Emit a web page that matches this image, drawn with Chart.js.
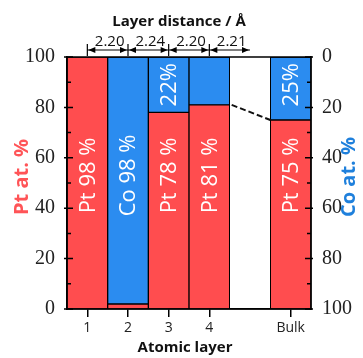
<!DOCTYPE html>
<html>
<head>
<meta charset="utf-8">
<script src="https://cdn.jsdelivr.net/npm/chart.js@4"></script>
<style>
  html, body { margin: 0; padding: 0; background: #fff; }
  #wrap { width: 363px; height: 358px; }
</style>
</head>
<body>
<div id="wrap"><canvas id="layerChart"></canvas></div>
<script>
// data
const layers = ['1', '2', '3', '4', '', 'Bulk'];
const ptPercent = [100, 2, 78, 81, null, 75];
const coPercent = [0, 98, 22, 19, null, 25];
const barLabels = ['Pt 98 %', 'Co 98 %', 'Pt 78 %', 'Pt 81 %', '', 'Pt 75 %'];
const coLabels = ['', '', '22%', '', '', '25%'];
const layerDistances = ['2.20', '2.24', '2.20', '2.21'];

const RED = '#ff4d4f';
const BLUE = '#2b8cf0';
const SANS = '"Open Sans", "Noto Sans", sans-serif';
const SERIF = '"Liberation Serif", "DejaVu Serif", serif';

function vText(ctx, text, x, y) {
  ctx.save();
  ctx.translate(x, y);
  ctx.rotate(-Math.PI / 2);
  ctx.fillText(text, 0, 0);
  ctx.restore();
}

// frame, inward ticks, labels in bars, dashed line, top arrows, titles
const decorations = {
  id: 'decorations',
  afterDatasetsDraw(chart) {
    const { ctx, chartArea: a, scales } = chart;
    const x = scales.x, y = scales.y;
    const half = (x.getPixelForValue(1) - x.getPixelForValue(0)) / 2;

    ctx.save();
    // labels inside bars
    ctx.fillStyle = '#fff';
    ctx.font = '22px ' + SANS;
    ctx.textAlign = 'center';
    ctx.textBaseline = 'middle';
    barLabels.forEach((t, i) => {
      if (t) vText(ctx, t, x.getPixelForValue(i) + 1, y.getPixelForValue(53));
    });
    coLabels.forEach((t, i) => {
      if (t) vText(ctx, t, x.getPixelForValue(i) + 1, y.getPixelForValue(89));
    });

    // dashed line between layer 4 and bulk
    ctx.strokeStyle = '#111';
    ctx.lineWidth = 2;
    ctx.setLineDash([6, 3]);
    ctx.beginPath();
    ctx.moveTo(x.getPixelForValue(3) + half + 2, y.getPixelForValue(ptPercent[3]));
    ctx.lineTo(x.getPixelForValue(5) - half, y.getPixelForValue(ptPercent[5]));
    ctx.stroke();
    ctx.setLineDash([]);

    // frame
    ctx.lineWidth = 1.5;
    ctx.strokeStyle = '#000';
    ctx.strokeRect(a.left, a.top, a.right - a.left, a.bottom - a.top);

    // inward ticks on both y axes
    ctx.lineWidth = 1.5;
    for (let v = 0; v <= 100; v += 10) {
      const py = y.getPixelForValue(v);
      const major = v % 20 === 0;
      ctx.beginPath();
      ctx.moveTo(a.left - (major ? 3 : 0), py);
      ctx.lineTo(a.left + (major ? 6 : 4), py);
      ctx.moveTo(a.right + (major ? 2 : 0), py);
      ctx.lineTo(a.right - (major ? 6 : 4), py);
      ctx.stroke();
    }

    // layer distance arrows
    const ay = 50;
    ctx.lineWidth = 1.2;
    ctx.fillStyle = '#000';
    for (let i = 0; i < layerDistances.length; i++) {
      const x0 = x.getPixelForValue(i);
      const x1 = x.getPixelForValue(i + 1);
      ctx.beginPath();
      ctx.moveTo(x0, ay);
      ctx.lineTo(x1, ay);
      ctx.moveTo(x0, ay - 6);
      ctx.lineTo(x0, ay + 6);
      ctx.stroke();
      ctx.beginPath();
      ctx.moveTo(x0 + 1, ay);
      ctx.lineTo(x0 + 8, ay - 3);
      ctx.lineTo(x0 + 8, ay + 3);
      ctx.closePath();
      ctx.moveTo(x1 - 1, ay);
      ctx.lineTo(x1 - 8, ay - 3);
      ctx.lineTo(x1 - 8, ay + 3);
      ctx.closePath();
      ctx.fill();
      ctx.font = '15px ' + SANS;
      ctx.textAlign = 'center';
      ctx.textBaseline = 'alphabetic';
      ctx.fillStyle = '#111';
      ctx.fillText(layerDistances[i], (x0 + x1) / 2 + 2, 46);
      ctx.fillStyle = '#000';
    }

    // titles
    ctx.textAlign = 'center';
    ctx.textBaseline = 'middle';
    ctx.font = 'bold 15px ' + SANS;
    ctx.fillStyle = '#111';
    ctx.fillText('Layer distance / Å', 179, 22);
    ctx.fillText('Atomic layer', 185, 348);
    ctx.font = 'bold 20px ' + SANS;
    ctx.fillStyle = '#ff5457';
    vText(ctx, 'Pt at. %', 22, 177);
    ctx.fillStyle = '#1f80dc';
    vText(ctx, 'Co at. %', 349, 177);
    ctx.restore();
  }
};

new Chart(document.getElementById('layerChart'), {
  type: 'bar',
  data: {
    labels: layers,
    datasets: [
      { label: 'Pt', data: ptPercent, backgroundColor: RED, yAxisID: 'y' },
      { label: 'Co', data: coPercent, backgroundColor: BLUE, yAxisID: 'y' },
    ].map(d => Object.assign(d, {
      borderColor: '#000',
      borderWidth: 1,
      borderSkipped: false,
      barPercentage: 1,
      categoryPercentage: 1,
    })),
  },
  options: {
    responsive: true,
    maintainAspectRatio: false,
    animation: false,
    layout: { padding: { top: 57, left: 0, right: 0, bottom: 0 } },
    plugins: { legend: { display: false }, tooltip: { enabled: false } },
    scales: {
      x: {
        stacked: true,
        afterFit: s => { s.height = 49; },
        grid: {
          offset: false,
          drawOnChartArea: false,
          drawTicks: true,
          tickLength: 8,
          color: c => (layers[c.index] ? '#000' : 'rgba(0,0,0,0)'),
          lineWidth: 1.5,
        },
        border: { display: true, color: '#000', width: 1.5 },
        ticks: { color: '#222', font: { family: SANS, size: 14 }, padding: 3, maxRotation: 0 },
      },
      y: {
        stacked: true,
        position: 'left',
        min: 0, max: 100,
        afterFit: s => { s.width = 67; },
        grid: { display: false },
        border: { display: true, color: '#000', width: 1.5 },
        ticks: { stepSize: 20, color: '#222', font: { family: SERIF, size: 20 }, padding: 4 },
      },
      y2: {
        position: 'right',
        min: 0, max: 100,
        reverse: true,
        afterFit: s => { s.width = 52; },
        grid: { display: false },
        border: { display: true, color: '#000', width: 1.5 },
        ticks: { stepSize: 20, color: '#222', font: { family: SERIF, size: 20 }, padding: 3 },
      },
    },
  },
  plugins: [decorations],
});
</script>
</body>
</html>
